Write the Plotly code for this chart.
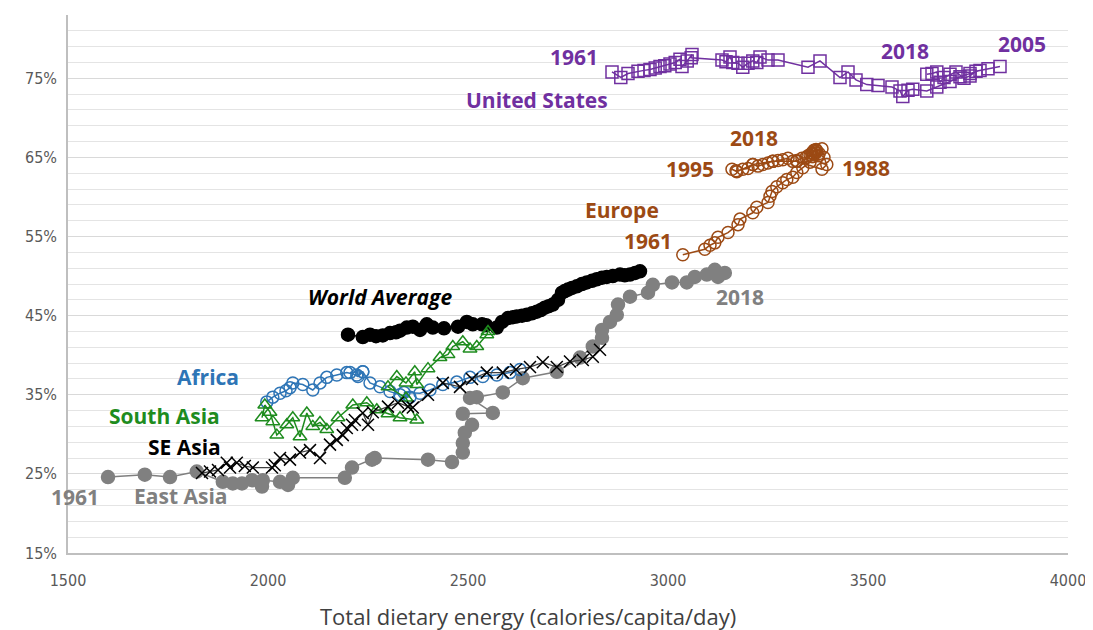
import plotly.graph_objects as go

# Total dietary energy (kcal/capita/day) vs share (%), 1961-2018, by region
us_cal = [2860, 2882, 2900, 2925, 2940, 2955, 2968, 2980, 2992, 3005, 3018, 3030, 3035, 3048, 3060,
          3058, 3135, 3145, 3155, 3162, 3175, 3187, 3200, 3212, 3222, 3230, 3250, 3275, 3350, 3380,
          3430, 3450, 3470, 3497, 3525, 3560, 3580, 3587, 3600, 3612, 3647, 3672, 3705, 3730, 3755,
          3780, 3830, 3800, 3770, 3755, 3740, 3720, 3705, 3690, 3680, 3672, 3660, 3647]
us_pct = [75.8, 75.1, 75.6, 75.9, 76.0, 76.1, 76.3, 76.5, 76.6, 76.8, 77.0, 77.4, 76.5, 77.2, 78.0,
          77.6, 77.3, 77.1, 77.7, 77.0, 76.9, 76.4, 76.9, 77.2, 77.0, 77.7, 77.3, 77.3, 76.4, 77.2,
          75.1, 75.8, 74.8, 74.2, 74.1, 73.9, 73.4, 72.7, 73.5, 73.6, 73.4, 73.9, 74.6, 75.2, 75.6,
          76.0, 76.5, 76.2, 75.9, 75.3, 75.0, 75.8, 75.5, 75.1, 74.5, 75.8, 75.6, 75.5]

eu_cal = [3037, 3092, 3105, 3117, 3125, 3150, 3175, 3180, 3212, 3222, 3250, 3255, 3260, 3272, 3287,
          3297, 3312, 3322, 3337, 3355, 3362, 3372, 3385, 3378, 3390, 3397, 3385, 3322, 3262, 3212,
          3172, 3160, 3170, 3187, 3200, 3212, 3225, 3237, 3250, 3262, 3275, 3287, 3300, 3312, 3322,
          3335, 3345, 3355, 3360, 3365, 3370, 3360, 3365, 3370, 3375, 3365, 3360, 3350]
eu_pct = [52.7, 53.4, 53.9, 54.2, 54.9, 55.5, 56.5, 57.2, 58.0, 58.7, 59.3, 60.1, 60.7, 61.3, 61.8,
          62.2, 62.5, 63.1, 63.7, 64.4, 65.1, 65.8, 66.1, 65.5, 65.0, 64.1, 63.5, 64.5, 64.5, 64.1,
          63.2, 63.5, 63.3, 63.5, 63.6, 64.1, 63.9, 64.1, 64.3, 64.5, 64.6, 64.7, 64.9, 64.5, 64.6,
          64.9, 65.0, 65.3, 65.6, 65.9, 66.0, 65.5, 65.8, 65.6, 65.2, 65.4, 65.1, 65.2]

world_cal = [2200, 2237, 2255, 2270, 2287, 2305, 2320, 2330, 2347, 2362, 2380, 2397, 2412, 2440, 2475,
             2497, 2512, 2535, 2545, 2572, 2585, 2600, 2612, 2622, 2635, 2647, 2660, 2672, 2682, 2692,
             2702, 2712, 2725, 2735, 2742, 2750, 2760, 2772, 2785, 2797, 2810, 2822, 2835, 2847, 2862,
             2880, 2892, 2905, 2918, 2930]
world_pct = [42.6, 42.3, 42.6, 42.4, 42.5, 42.8, 42.9, 43.1, 43.5, 43.6, 43.2, 43.9, 43.5, 43.4, 43.6,
             44.2, 43.9, 43.9, 43.8, 43.5, 44.2, 44.7, 44.8, 44.9, 45.0, 45.1, 45.3, 45.5, 45.7, 46.0,
             46.2, 46.4, 47.0, 47.9, 48.1, 48.3, 48.5, 48.7, 49.0, 49.2, 49.4, 49.6, 49.8, 49.9, 50.0,
             50.2, 50.1, 50.2, 50.4, 50.6]

east_asia_cal = [1600, 1692, 1755, 1822, 1887, 1912, 1935, 1960, 1985, 1987, 2030, 2050, 2062, 2192, 2210,
                 2260, 2267, 2400, 2460, 2487, 2487, 2492, 2510, 2487, 2562, 2505, 2522, 2587, 2637, 2722,
                 2780, 2812, 2835, 2835, 2855, 2872, 2875, 2905, 2950, 2962, 3010, 3047, 3067, 3097, 3117,
                 3125, 3142]
east_asia_pct = [24.6, 24.9, 24.6, 25.3, 24.0, 23.8, 23.8, 24.2, 23.4, 24.2, 24.0, 23.6, 24.5, 24.5, 25.8,
                 26.8, 27.0, 26.8, 26.5, 27.7, 28.9, 30.2, 31.2, 32.6, 32.7, 34.6, 34.7, 35.3, 37.1, 37.9,
                 39.7, 41.1, 42.2, 43.2, 44.2, 45.1, 46.4, 47.4, 47.9, 48.9, 49.2, 49.2, 49.9, 50.2, 50.8,
                 49.9, 50.4]

se_asia_cal = [1835, 1855, 1875, 1897, 1905, 1922, 1942, 1962, 2010, 2017, 2030, 2055, 2080, 2105, 2130,
               2155, 2172, 2187, 2197, 2210, 2217, 2237, 2250, 2262, 2300, 2325, 2350, 2362, 2400, 2437,
               2480, 2510, 2547, 2587, 2620, 2655, 2687, 2722, 2755, 2787, 2812, 2830]
se_asia_pct = [25.1, 25.3, 25.5, 26.4, 25.8, 26.4, 26.0, 25.8, 25.8, 26.1, 27.0, 26.8, 27.7, 28.0, 27.0,
               28.7, 29.3, 29.9, 30.8, 31.2, 31.8, 32.7, 31.2, 32.8, 33.5, 34.0, 33.5, 33.4, 35.0, 36.5,
               36.0, 37.0, 37.8, 37.8, 38.2, 38.5, 39.1, 38.5, 39.2, 39.4, 39.8, 40.7]

africa_cal = [1997, 2012, 2030, 2045, 2055, 2062, 2087, 2112, 2130, 2147, 2172, 2197, 2222, 2237, 2225,
              2205, 2237, 2255, 2280, 2305, 2330, 2355, 2340, 2380, 2405, 2437, 2472, 2505, 2537, 2572,
              2605, 2630]
africa_pct = [34.1, 34.7, 35.2, 35.5, 35.9, 36.5, 36.3, 35.6, 36.5, 37.2, 37.5, 37.8, 37.5, 37.9, 37.3,
              37.8, 37.9, 36.5, 36.0, 35.4, 35.0, 34.7, 35.3, 35.2, 35.6, 36.3, 36.6, 37.2, 37.3, 37.5,
              37.8, 38.2]

south_asia_cal = [1985, 1992, 2005, 2012, 2022, 2047, 2062, 2080, 2097, 2112, 2130, 2147, 2175, 2212, 2247,
                  2272, 2300, 2330, 2372, 2345, 2300, 2322, 2345, 2367, 2372, 2400, 2430, 2450, 2462, 2487,
                  2505, 2522, 2547, 2550]
south_asia_pct = [32.1, 33.7, 32.8, 31.6, 29.9, 31.2, 32.1, 29.7, 32.7, 31.0, 31.5, 30.6, 32.1, 33.7, 34.0,
                  33.1, 32.6, 32.1, 31.8, 34.6, 36.0, 37.3, 36.5, 37.9, 36.3, 38.3, 39.7, 40.1, 41.1, 41.7,
                  40.8, 41.1, 42.6, 43.0]

# labels: text, x, y, colour
labels = [
    ("1961", 2765, 77.7, "#7030A0"), ("United States", 2672, 72.3, "#7030A0"),
    ("2018", 3592, 78.4, "#7030A0"), ("2005", 3885, 79.3, "#7030A0"),
    ("2018", 3215, 67.5, "#9C4A14"), ("1995", 3055, 63.5, "#9C4A14"),
    ("1988", 3495, 63.7, "#9C4A14"), ("Europe", 2885, 58.4, "#9C4A14"),
    ("1961", 2950, 54.4, "#9C4A14"), ("<i>World Average</i>", 2280, 47.3, "#000000"),
    ("2018", 3180, 47.3, "#808080"), ("Africa", 1850, 37.2, "#2E75B6"),
    ("South Asia", 1740, 32.3, "#1E8C1E"), ("SE Asia", 1790, 28.4, "#000000"),
    ("1961", 1517, 22.1, "#808080"), ("East Asia", 1780, 22.2, "#808080"),
]

fig = go.Figure()


def add_series(x, y, color, symbol, size, line_color=None, lw=1.5):
    fig.add_trace(go.Scatter(
        x=x, y=y, mode="lines+markers",
        line=dict(color=line_color or color, width=lw),
        marker=dict(symbol=symbol, size=size, color=color,
                    line=dict(color=color, width=1.5)),
        showlegend=False,
    ))


add_series(east_asia_cal, east_asia_pct, "#808080", "circle", 13, line_color="#7F7F7F")
add_series(world_cal, world_pct, "#000000", "circle", 13)
add_series(africa_cal, africa_pct, "#2E75B6", "circle-open", 12)
add_series(south_asia_cal, south_asia_pct, "#1E8C1E", "triangle-up-open", 12)
add_series(se_asia_cal, se_asia_pct, "#000000", "x-thin", 12, line_color="#404040", lw=1.2)
add_series(eu_cal, eu_pct, "#9C4A14", "circle-open", 12)
add_series(us_cal, us_pct, "#7030A0", "square-open", 12)

for text, x, y, color in labels:
    fig.add_annotation(x=x, y=y, text=f"<b>{text}</b>", showarrow=False,
                       font=dict(family="Open Sans, sans-serif", size=21, color=color))

# x-axis title sits slightly left of the plot centre in the original
fig.add_annotation(x=0.46, y=-0.118, xref="paper", yref="paper", yanchor="middle",
                   showarrow=False,
                   text="Total dietary energy (calories/capita/day)",
                   font=dict(family="Open Sans, sans-serif", size=22, color="#404040"))

tick_font = dict(family="DejaVu Sans Condensed, Liberation Sans Narrow, sans-serif", size=16, color="#595959")

fig.update_layout(
    width=1093, height=630,
    margin=dict(l=60, r=33, t=7, b=85),
    plot_bgcolor="white", paper_bgcolor="white",
    xaxis=dict(
        range=[1500, 4000], tick0=1500, dtick=500, showgrid=False,
        showline=True, linecolor="#BFBFBF", linewidth=1.5, zeroline=False,
        ticks="", ticklabelstandoff=12, tickfont=tick_font,
    ),
    yaxis=dict(
        range=[15, 83], tick0=15, dtick=10, ticksuffix="%",
        showgrid=True, gridcolor="#D9D9D9", gridwidth=1.2,
        minor=dict(dtick=2, tick0=15, showgrid=True, gridcolor="#E4E4E4", gridwidth=1),
        showline=True, linecolor="#BFBFBF", linewidth=1.5, zeroline=False,
        ticks="", ticklabelstandoff=6, tickfont=tick_font, automargin=False,
    ),
)

fig.write_html("out.html")
